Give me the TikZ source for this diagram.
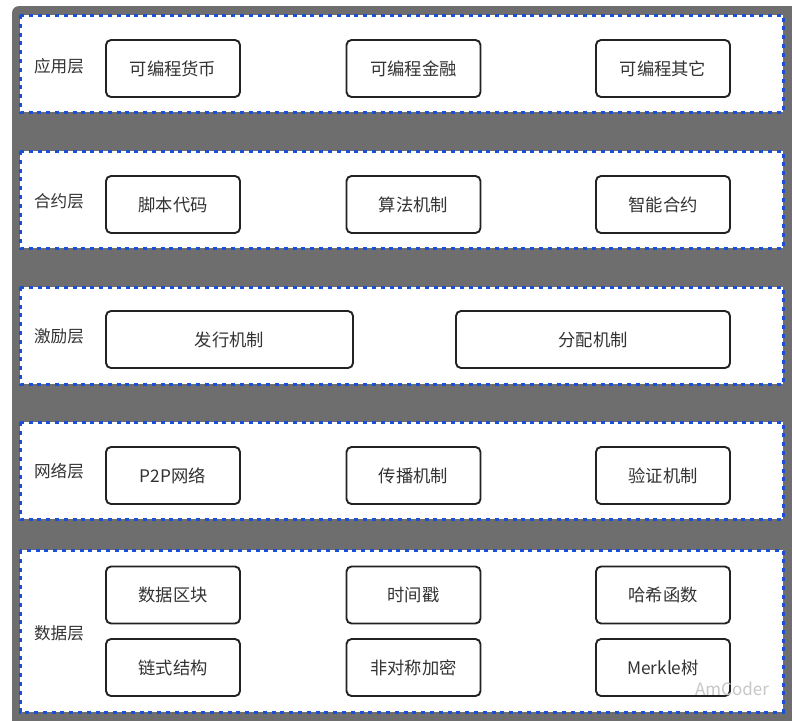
\documentclass[tikz,border=0pt]{standalone}
\usepackage{fontspec}
\setmainfont{Noto Sans CJK SC}
\usetikzlibrary{positioning}
\definecolor{bggray}{HTML}{6E6E6E}
\definecolor{dotblue}{HTML}{1A4FD8}
\definecolor{boxline}{HTML}{222222}
\definecolor{txt}{HTML}{333333}
\tikzset{
  panel/.style={fill=white, draw=dotblue, line width=3pt, dash pattern=on 4pt off 4.8pt},
  itembox/.style={draw=boxline, line width=1.9pt, rounded corners=5pt, fill=white,
    minimum height=57pt, text=txt, font=\fontsize{17.3}{20}\selectfont, inner sep=0pt},
  small/.style={itembox, minimum width=134pt},
  layerlabel/.style={text=txt, font=\fontsize{16.6}{19}\selectfont, inner sep=0pt},
}
\begin{document}
\begin{tikzpicture}[x=1pt,y=-1pt]
\useasboundingbox (0,0) rectangle (792,720);
\fill[bggray, rounded corners=7pt] (12,6) rectangle (806,730);
% panels
\draw[panel] (20,15) rectangle (783,112);
\draw[panel] (20,151) rectangle (783,248);
\draw[panel] (20,287) rectangle (783,384);
\draw[panel] (20,422) rectangle (783,519);
\draw[panel] (20,550) rectangle (783,712);
% labels
\node[layerlabel] (l1) at (59,66) {应用层};
\node[layerlabel] (l2) at (59,201) {合约层};
\node[layerlabel] (l3) at (59,336) {激励层};
\node[layerlabel] (l4) at (59,471) {网络层};
\node[layerlabel] (l5) at (59,633) {数据层};
% row 1
\node[small] (a1) at (173,68.5) {可编程货币};
\node[small] (a2) at (413.5,68.5) {可编程金融};
\node[small] (a3) at (663,68.5) {可编程其它};
% row 2
\node[small] (b1) at (173,204.5) {脚本代码};
\node[small] (b2) at (413.5,204.5) {算法机制};
\node[small] (b3) at (663,204.5) {智能合约};
% row 3
\node[itembox, minimum width=247pt] (c1) at (229.5,339.5) {发行机制};
\node[itembox, minimum width=274pt] (c2) at (593,339.5) {分配机制};
% row 4
\node[small] (d1) at (173,475.5) {P2P网络};
\node[small] (d2) at (413.5,475.5) {传播机制};
\node[small] (d3) at (663,475.5) {验证机制};
% row 5
\node[small] (e1) at (173,595) {数据区块};
\node[small] (e2) at (413.5,595) {时间戳};
\node[small] (e3) at (663,595) {哈希函数};
\node[small] (e4) at (173,667.5) {链式结构};
\node[small] (e5) at (413.5,667.5) {非对称加密};
\node[small] (e6) at (663,667.5) {Merkle树};
% watermark
\node[text=black!22, font=\fontsize{17}{20}\selectfont, inner sep=0pt] (wm) at (732,689) {AmCoder};
\end{tikzpicture}
\end{document}
